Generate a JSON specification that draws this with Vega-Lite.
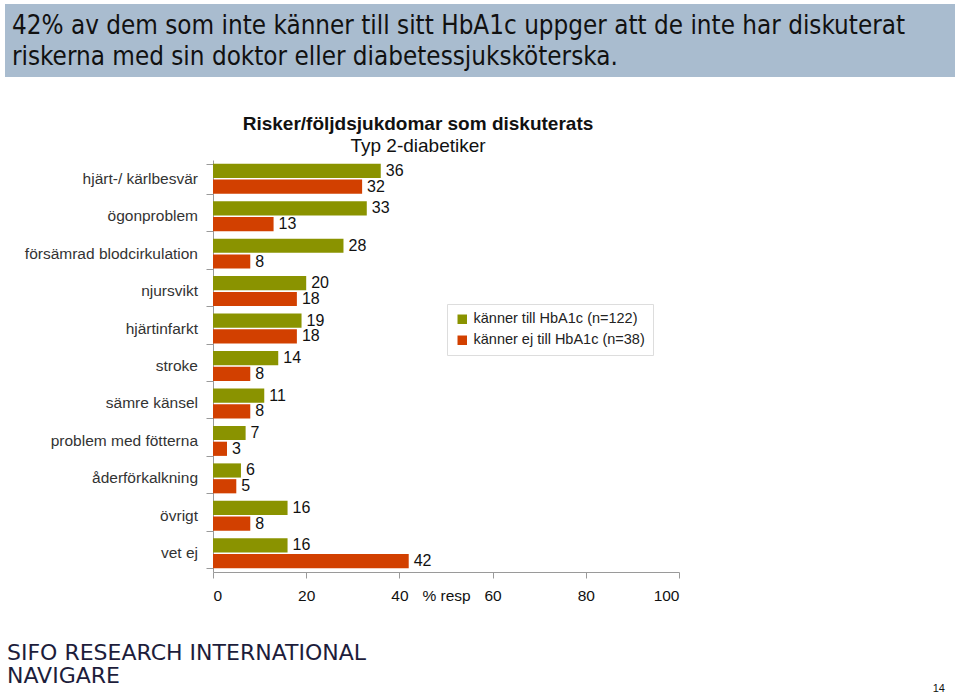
{
  "$schema": "https://vega.github.io/schema/vega-lite/v6.json",
  "background": "white",
  "padding": {"left": 5, "top": 4, "right": 0, "bottom": 0},
  "spacing": 38,
  "config": {"view": {"stroke": null}, "font": "Liberation Sans"},
  "datasets": {
    "risker": [
      {"risk": "hjärt-/ kärlbesvär", "grupp": "känner till HbA1c (n=122)", "varde": 36},
      {"risk": "hjärt-/ kärlbesvär", "grupp": "känner ej till HbA1c (n=38)", "varde": 32},
      {"risk": "ögonproblem", "grupp": "känner till HbA1c (n=122)", "varde": 33},
      {"risk": "ögonproblem", "grupp": "känner ej till HbA1c (n=38)", "varde": 13},
      {"risk": "försämrad blodcirkulation", "grupp": "känner till HbA1c (n=122)", "varde": 28},
      {"risk": "försämrad blodcirkulation", "grupp": "känner ej till HbA1c (n=38)", "varde": 8},
      {"risk": "njursvikt", "grupp": "känner till HbA1c (n=122)", "varde": 20},
      {"risk": "njursvikt", "grupp": "känner ej till HbA1c (n=38)", "varde": 18},
      {"risk": "hjärtinfarkt", "grupp": "känner till HbA1c (n=122)", "varde": 19},
      {"risk": "hjärtinfarkt", "grupp": "känner ej till HbA1c (n=38)", "varde": 18},
      {"risk": "stroke", "grupp": "känner till HbA1c (n=122)", "varde": 14},
      {"risk": "stroke", "grupp": "känner ej till HbA1c (n=38)", "varde": 8},
      {"risk": "sämre känsel", "grupp": "känner till HbA1c (n=122)", "varde": 11},
      {"risk": "sämre känsel", "grupp": "känner ej till HbA1c (n=38)", "varde": 8},
      {"risk": "problem med fötterna", "grupp": "känner till HbA1c (n=122)", "varde": 7},
      {"risk": "problem med fötterna", "grupp": "känner ej till HbA1c (n=38)", "varde": 3},
      {"risk": "åderförkalkning", "grupp": "känner till HbA1c (n=122)", "varde": 6},
      {"risk": "åderförkalkning", "grupp": "känner ej till HbA1c (n=38)", "varde": 5},
      {"risk": "övrigt", "grupp": "känner till HbA1c (n=122)", "varde": 16},
      {"risk": "övrigt", "grupp": "känner ej till HbA1c (n=38)", "varde": 8},
      {"risk": "vet ej", "grupp": "känner till HbA1c (n=122)", "varde": 16},
      {"risk": "vet ej", "grupp": "känner ej till HbA1c (n=38)", "varde": 42}
    ],
    "sida": [{"nr": "14"}]
  },
  "vconcat": [
    {
      "width": 950,
      "height": 73,
      "view": {"fill": "#a9bccf", "stroke": null},
      "title": {
        "text": ["42% av dem som inte känner till sitt HbA1c uppger att de inte har diskuterat", "riskerna med sin doktor eller diabetessjuksköterska."],
        "orient": "top",
        "anchor": "start",
        "frame": "group",
        "baseline": "top",
        "offset": -67,
        "dx": 7,
        "font": "DejaVu Sans Condensed",
        "fontSize": 25.8,
        "fontWeight": "normal",
        "lineHeight": 31,
        "color": "#111111"
      },
      "data": {"name": "sida"},
      "mark": {"type": "text"},
      "encoding": {"text": {"value": ""}}
    },
    {
      "spacing": 7,
      "hconcat": [
        {
          "width": 193,
          "height": 412,
          "data": {"name": "risker"},
          "transform": [{"filter": "datum.grupp === 'känner till HbA1c (n=122)'"}],
          "mark": {"type": "text", "align": "right", "baseline": "middle", "fontSize": 15.5, "color": "#333333"},
          "encoding": {
            "y": {
              "field": "risk",
              "type": "nominal",
              "sort": ["hjärt-/ kärlbesvär", "ögonproblem", "försämrad blodcirkulation", "njursvikt", "hjärtinfarkt", "stroke", "sämre känsel", "problem med fötterna", "åderförkalkning", "övrigt", "vet ej"],
              "scale": {"paddingInner": 0.2, "paddingOuter": 0.1},
              "axis": null
            },
            "x": {"value": "width"},
            "text": {"field": "risk", "type": "nominal"}
          }
        },
        {
          "width": 466,
          "height": 412,
          "title": {
            "text": "Risker/följdsjukdomar som diskuterats",
            "subtitle": "Typ 2-diabetiker",
            "anchor": "middle",
            "frame": "group",
            "dx": -28,
            "offset": 4,
            "font": "Liberation Sans",
            "fontSize": 19,
            "fontWeight": "bold",
            "color": "#111111",
            "subtitleFont": "Liberation Sans",
            "subtitleFontSize": 19,
            "subtitleColor": "#111111",
            "subtitlePadding": 3
          },
          "data": {"name": "risker"},
          "encoding": {
            "y": {
              "field": "risk",
              "type": "nominal",
              "sort": ["hjärt-/ kärlbesvär", "ögonproblem", "försämrad blodcirkulation", "njursvikt", "hjärtinfarkt", "stroke", "sämre känsel", "problem med fötterna", "åderförkalkning", "övrigt", "vet ej"],
              "scale": {"paddingInner": 0.2, "paddingOuter": 0.1},
              "axis": {
                "title": null,
                "labels": false,
                "tickBand": "extent",
                "domainColor": "#9a9a9a",
                "tickColor": "#9a9a9a",
                "tickSize": 7
              }
            },
            "yOffset": {
              "field": "grupp",
              "type": "nominal",
              "sort": ["känner till HbA1c (n=122)", "känner ej till HbA1c (n=38)"],
              "scale": {"paddingInner": 0.1}
            },
            "x": {
              "field": "varde",
              "type": "quantitative",
              "scale": {"domain": [0, 100], "nice": false},
              "axis": {
                "values": [0, 20, 40, 60, 80, 100],
                "grid": false,
                "domainColor": "#9a9a9a",
                "tickColor": "#9a9a9a",
                "tickSize": 6,
                "labelPadding": 10,
                "labelFontSize": 15.5,
                "labelColor": "#111111",
                "title": "% resp",
                "titleFontSize": 15.5,
                "titleFontWeight": "normal",
                "titleColor": "#111111",
                "titleY": 16,
                "titleBaseline": "top"
              }
            }
          },
          "layer": [
            {
              "mark": {"type": "bar"},
              "encoding": {
                "color": {
                  "field": "grupp",
                  "type": "nominal",
                  "scale": {"domain": ["känner till HbA1c (n=122)", "känner ej till HbA1c (n=38)"], "range": ["#8a9300", "#d24000"]},
                  "legend": {
                    "title": null,
                    "orient": "none",
                    "legendX": 442,
                    "legendY": 300,
                    "fillColor": "white",
                    "strokeColor": "#dddddd",
                    "padding": 8,
                    "symbolType": "square",
                    "symbolSize": 90,
                    "symbolStrokeWidth": 0,
                    "labelFontSize": 14.5,
                    "labelColor": "#222222",
                    "labelLimit": 300,
                    "rowPadding": 6
                  }
                }
              }
            },
            {
              "mark": {"type": "text", "align": "left", "baseline": "middle", "dx": 5, "fontSize": 16, "color": "#111111"},
              "encoding": {"text": {"field": "varde", "type": "quantitative"}}
            }
          ]
        }
      ]
    },
    {
      "width": 950,
      "height": 50,
      "title": {
        "text": ["SIFO RESEARCH INTERNATIONAL", "NAVIGARE"],
        "orient": "top",
        "anchor": "start",
        "frame": "group",
        "baseline": "top",
        "offset": -44,
        "dx": 2,
        "font": "DejaVu Sans",
        "fontSize": 22,
        "fontWeight": "normal",
        "lineHeight": 23,
        "color": "#1d1d3b"
      },
      "data": {"name": "sida"},
      "mark": {"type": "text", "align": "right", "baseline": "bottom", "dx": -10, "fontSize": 11, "color": "#111111"},
      "encoding": {
        "text": {"field": "nr", "type": "nominal"},
        "x": {"value": "width"},
        "y": {"value": "height"}
      }
    }
  ]
}
